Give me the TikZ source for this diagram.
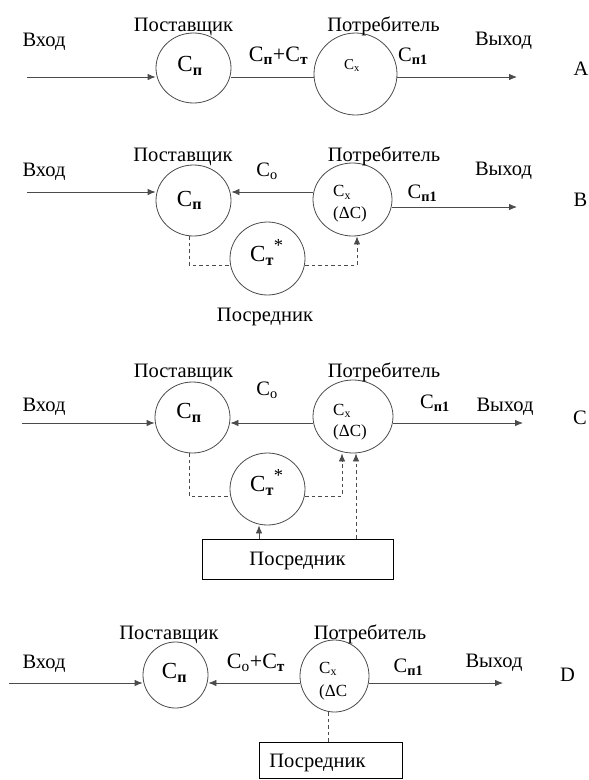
\documentclass[tikz,border=0pt]{standalone}
\usepackage{fontspec}
\setmainfont{Liberation Serif}
\usepackage{graphicx}
\usetikzlibrary{arrows.meta, shapes.geometric, calc}
\tikzset{>={Latex[length=8pt,width=6.5pt]}}
\definecolor{mygray}{RGB}{75, 75, 75}
\newcommand{\Cn}[1]{С\textsubscript{\textbf{#1}}}
\newcommand{\Cx}{С\textsubscript{х}}
\newcommand{\Cstar}{С\textsubscript{\textbf{т}}\raisebox{0.45em}{\scalebox{0.8}{*}}}
\tikzset{
flow/.style = {draw = mygray, line width = 0.8pt},
link/.style = {draw = mygray, line width = 0.8pt, dash pattern = on 3.5pt off 3pt},
agent/.style = {ellipse, draw = mygray, line width = 0.8pt, inner sep = 0pt},
medbox/.style = {rectangle, draw, line width = 0.8pt, inner sep = 0pt, text depth = 0pt, font = \fontsize{20.5}{24}\selectfont},
txt/.style = {anchor = base, inner sep = 0pt, font = \fontsize{20.5}{24}\selectfont},
big/.style = {txt, font = \fontsize{23}{27}\selectfont},
small/.style = {anchor = base west, inner sep = 0pt, font = \fontsize{17}{20}\selectfont}
}

\begin{document}
\begin{tikzpicture}[x = 1pt, y = -1pt]

\useasboundingbox (0, 0) rectangle (589, 780);

% A
\begin{scope}
\node[agent, minimum width = 75pt, minimum height = 70pt] (supA) at (193.5, 68) {};
\node[agent, minimum width = 83pt, minimum height = 82pt] (conA) at (355.5, 74) {};
\coordinate (inA) at (27, 77);
\coordinate (outA) at (517, 77);
\draw[flow, ->] (inA) -- (inA -| supA.west);
\draw[flow] (supA.east |- inA) -- (conA.west |- inA);
\draw[flow, ->] (conA.east |- inA) -- (outA);
\node[txt] (tinA) at (44, 46.7) {Вход};
\node[txt] (tsupA) at (183.5, 31.7) {Поставщик};
\node[txt] (tconA) at (383.5, 31.7) {Потребитель};
\node[txt] (toutA) at (503.5, 45.7) {Выход};
\node[big] (cpA) at (190, 71.7) {\Cn{п}};
\node[txt, font = \fontsize{15}{18}\selectfont] (cxA) at (352, 69.3) {\Cx};
\node[txt, font = \fontsize{22}{26}\selectfont] (cptA) at (278.5, 61.7) {\Cn{п}+\Cn{т}};
\node[txt] (cp1A) at (413, 61) {\Cn{п1}};
\node[txt] (letA) at (581, 75) {A};
\end{scope}

% B
\begin{scope}[yshift = -130pt]
\node[agent, minimum width = 75pt, minimum height = 71pt] (supB) at (193.5, 70.5) {};
\node[agent, minimum width = 79pt, minimum height = 73pt] (conB) at (352.5, 69.5) {};
\node[agent, minimum width = 75pt, minimum height = 73pt] (medB) at (267.5, 128.5) {};
\coordinate (inB) at (27, 62);
\coordinate (outB) at (517, 77);
\coordinate (hitB) at ([xshift = 4.5pt]conB.south);
\draw[flow, ->] (inB) -- (inB -| supB.west);
\draw[flow, ->] (conB.west |- inB) -- (supB.east |- inB);
\draw[flow, ->] (conB.east |- outB) -- (outB);
\draw[link] ([xshift = -4.5pt]supB.south) |- ([yshift = -6.5pt]medB.west);
\draw[link, ->] ([yshift = -6.5pt]medB.east) -| (hitB);
\node[txt] (tinB) at (44, 46.7) {Вход};
\node[txt] (tsupB) at (183, 31.7) {Поставщик};
\node[txt] (tconB) at (384, 31.7) {Потребитель};
\node[txt] (toutB) at (503.5, 45.7) {Выход};
\node[txt] (coB) at (267, 46.7) {С\textsubscript{о}};
\node[txt] (cp1B) at (422.5, 68.3) {\Cn{п1}};
\node[big] (cpB) at (189.5, 76) {\Cn{п}};
\node[small] (cxB) at (333, 66.7) {\Cx};
\node[small] (dcB) at (333, 88.3) {(ΔC)};
\node[big, anchor = base west] (ctB) at (250, 131.7) {\Cstar};
\node[txt] (tmedB) at (265, 191) {Посредник};
\node[txt] (letB) at (580.5, 76) {B};
\end{scope}

% C
\begin{scope}[yshift = -340pt]
\node[agent, minimum width = 75pt, minimum height = 71pt] (supC) at (192.5, 77.5) {};
\node[agent, minimum width = 80pt, minimum height = 73pt] (conC) at (353, 76.5) {};
\node[agent, minimum width = 75pt, minimum height = 72pt] (medC) at (267.5, 149) {};
\node[medbox, minimum width = 191pt, minimum height = 40pt] (boxC) at (297.5, 219) {Посредник};
\coordinate (inC) at (22, 83);
\coordinate (outC) at (523, 83);
\coordinate (hitC) at ([xshift = -11pt]conC.south);
\coordinate (hitCC) at ([xshift = 3pt]conC.south);
\coordinate (hitT) at ([xshift = -8.5pt]medC.south);
\draw[flow, ->] (inC) -- (inC -| supC.west);
\draw[flow, ->] (conC.west |- inC) -- (supC.east |- inC);
\draw[flow, ->] (conC.east |- outC) -- (outC);
\draw[link] ([xshift = -3.5pt]supC.south) |- ([yshift = -7pt]medC.west);
\draw[link, ->] ([yshift = -7pt]medC.east) -| (hitC);
\draw[link, ->] (boxC.north -| hitCC) -- (hitCC);
\draw[flow, ->] (boxC.north -| hitT) -- (hitT);
\node[txt] (tinC) at (44, 71) {Вход};
\node[txt] (tsupC) at (183.5, 37.7) {Поставщик};
\node[txt] (tconC) at (384, 37.7) {Потребитель};
\node[txt] (toutC) at (505, 71) {Выход};
\node[txt] (coC) at (267, 55) {С\textsubscript{о}};
\node[txt] (cp1C) at (435, 68.3) {\Cn{п1}};
\node[big] (cpC) at (189, 78.3) {\Cn{п}};
\node[small] (cxC) at (333, 75) {\Cx};
\node[small] (dcC) at (333, 96.7) {(ΔC)};
\node[big, anchor = base west] (ctC) at (250, 151.7) {\Cstar};
\node[txt] (letC) at (580, 84) {C};
\end{scope}

% D
\begin{scope}[yshift = -600pt]
\node[agent, minimum width = 65pt, minimum height = 66pt] (supD) at (175.5, 75) {};
\node[agent, minimum width = 69pt, minimum height = 72pt] (conD) at (334.5, 76) {};
\node[medbox, anchor = north west, minimum height = 36pt, text width = 123pt, align = left, inner xsep = 10pt] (boxD) at (259, 142) {Посредник};
\coordinate (inD) at (9, 83);
\coordinate (outD) at (503, 83);
\coordinate (hitD) at ([xshift = -6.5pt]conD.south);
\draw[flow, ->] (inD) -- (inD -| supD.west);
\draw[flow, ->] (conD.west |- inD) -- (supD.east |- inD);
\draw[flow, ->] (conD.east |- outD) -- (outD);
\draw[link] (hitD) -- (boxD.north -| hitD);
\node[txt] (tinD) at (44, 68.3) {Вход};
\node[txt] (tsupD) at (169, 39) {Поставщик};
\node[txt] (tconD) at (370, 39) {Потребитель};
\node[txt] (toutD) at (494, 67.7) {Выход};
\node[txt, font = \fontsize{22}{26}\selectfont] (cotD) at (256, 68.3) {С\textsubscript{о}+\Cn{т}};
\node[txt] (cp1D) at (408.5, 72.7) {\Cn{п1}};
\node[big] (cpD) at (174.5, 78.3) {\Cn{п}};
\node[small] (cxD) at (319, 73.3) {\Cx};
\node[small] (dcD) at (319, 96) {(ΔC};
\node[txt] (letD) at (567.5, 81.7) {D};
\end{scope}

\end{tikzpicture}
\end{document}
